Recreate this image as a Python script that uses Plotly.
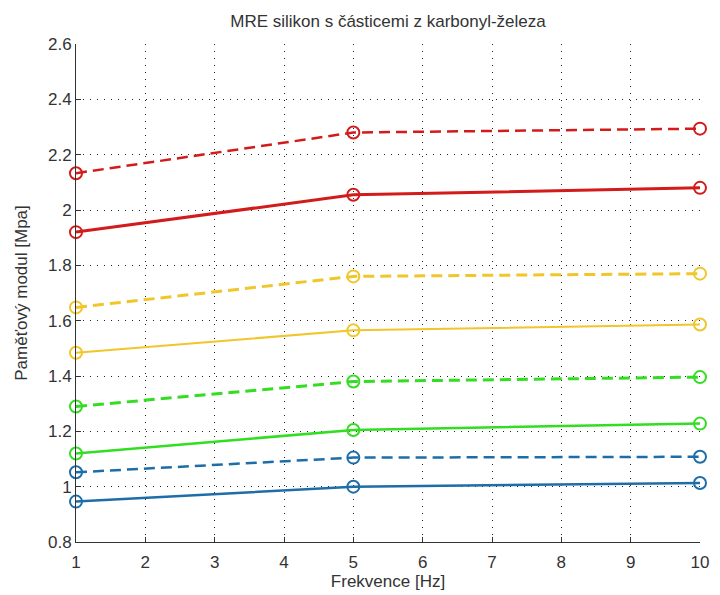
import plotly.graph_objects as go

freq = [1, 5, 10]

red_dash = [2.133, 2.280, 2.294]
red_solid = [1.920, 2.055, 2.080]
yellow_dash = [1.648, 1.760, 1.770]
yellow_solid = [1.484, 1.565, 1.586]
green_dash = [1.290, 1.380, 1.396]
green_solid = [1.120, 1.205, 1.228]
blue_dash = [1.052, 1.105, 1.108]
blue_solid = [0.946, 1.000, 1.013]

RED = "#d31b1b"
YELLOW = "#f0c62a"
GREEN = "#33dd22"
BLUE = "#1d6ea8"

series = [
    (red_dash, RED, "dash", 2.5),
    (red_solid, RED, "solid", 3),
    (yellow_dash, YELLOW, "dash", 3),
    (yellow_solid, YELLOW, "solid", 2),
    (green_dash, GREEN, "dash", 3),
    (green_solid, GREEN, "solid", 2.5),
    (blue_dash, BLUE, "dash", 2.5),
    (blue_solid, BLUE, "solid", 2.5),
]

fig = go.Figure()
for vals, col, dash, w in series:
    fig.add_trace(go.Scatter(
        x=freq, y=vals, mode="lines+markers",
        line=dict(color=col, width=w, dash="11px,6px" if dash == "dash" else "solid"),
        marker=dict(symbol="circle-open", size=12, color=col, line=dict(width=2, color=col)),
        showlegend=False, cliponaxis=False,
    ))

FAM = "Liberation Sans, Arial, sans-serif"
TXT = "#333333"
tickfont = dict(family=FAM, size=17, color=TXT)
titlefont = dict(family=FAM, size=17, color=TXT)

fig.update_layout(
    width=720, height=595,
    margin=dict(l=76, r=11, t=44, b=53),
    paper_bgcolor="white", plot_bgcolor="white",
    font=dict(family=FAM, size=17, color=TXT),
    title=dict(text="MRE silikon s částicemi z karbonyl-železa", x=0.5, xref="paper",
               xanchor="center", y=1 - 21 / 595, yanchor="middle",
               font=dict(family=FAM, size=17, color=TXT)),
    xaxis=dict(range=[1, 10], dtick=1, tick0=1, showgrid=True, gridcolor="#222222",
               gridwidth=1, griddash="1px,6px", showline=True, linecolor="#333333",
               linewidth=1, ticks="inside", ticklen=5, tickcolor="#333333",
               zeroline=False, mirror=False, tickfont=tickfont, ticklabelstandoff=5,
               title=dict(text="Frekvence [Hz]", standoff=0, font=titlefont)),
    yaxis=dict(range=[0.8, 2.6], dtick=0.2, tick0=0.8, showgrid=True, gridcolor="#222222",
               gridwidth=1, griddash="1px,6px", showline=True, linecolor="#333333",
               linewidth=1, ticks="inside", ticklen=5, tickcolor="#333333",
               zeroline=False, mirror=False, tickfont=tickfont,
               title=dict(text="Paměťový modul [Mpa]", standoff=16, font=titlefont)),
)

fig.write_html("out.html")
